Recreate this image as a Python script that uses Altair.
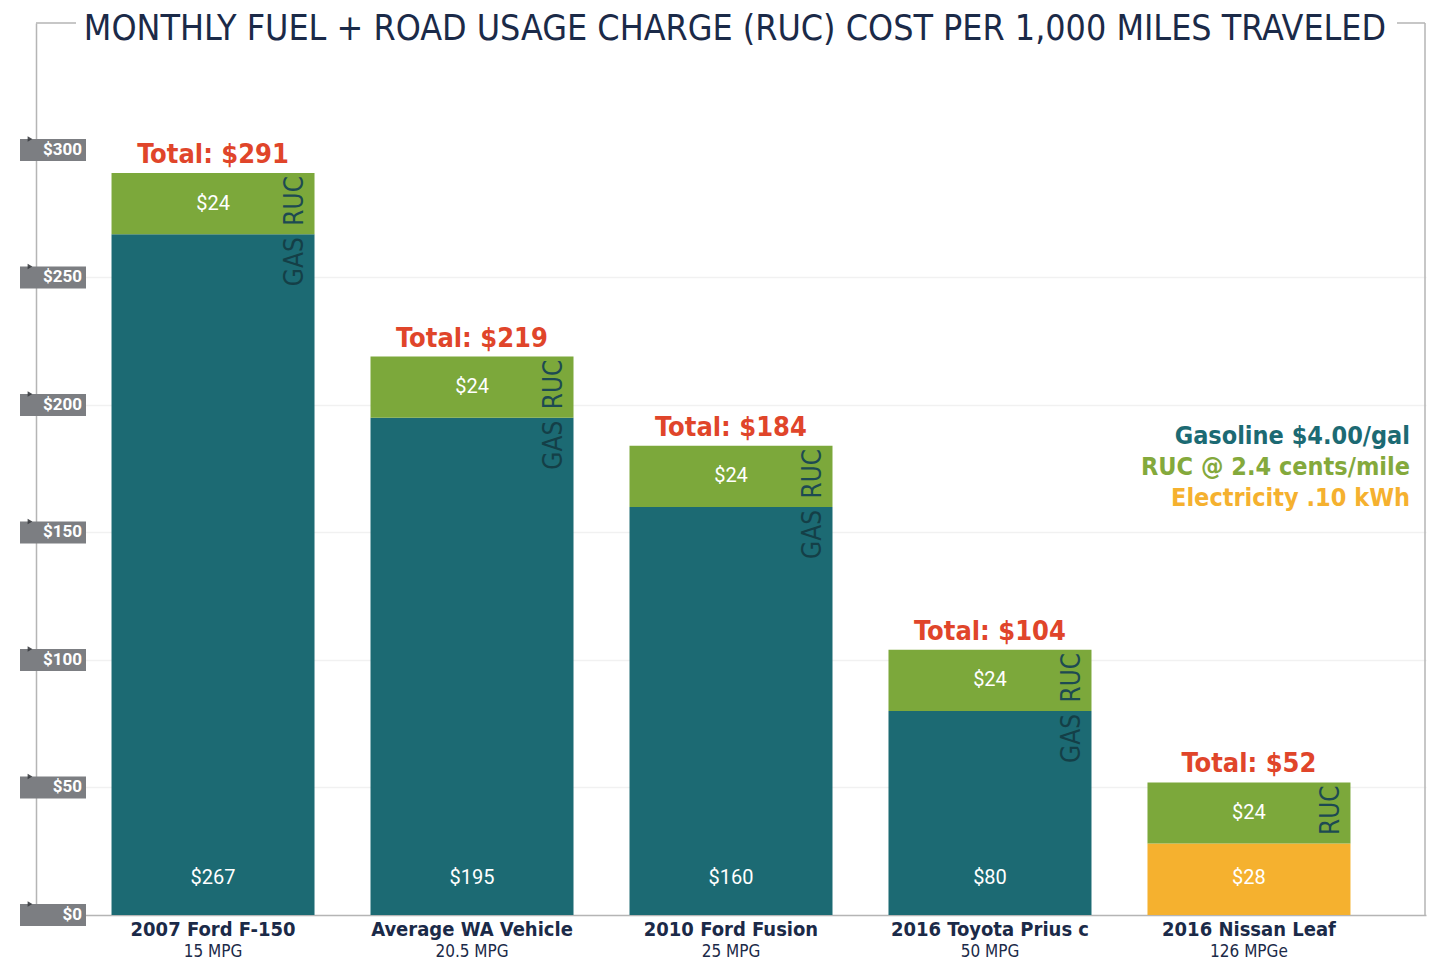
import altair as alt
import pandas as pd

# ---- data ----
vehicles = ["2007 Ford F-150", "Average WA Vehicle", "2010 Ford Fusion",
            "2016 Toyota Prius c", "2016 Nissan Leaf"]
mpg_labels = ["15 MPG", "20.5 MPG", "25 MPG", "50 MPG", "126 MPGe"]
fuel_cost = [267, 195, 160, 80, 28]
fuel_type = ["GAS", "GAS", "GAS", "GAS", "ELECTRIC"]
ruc_cost = [24, 24, 24, 24, 24]
totals = [291, 219, 184, 104, 52]
y_ticks = [0, 50, 100, 150, 200, 250, 300]
legend_lines = ["Gasoline $4.00/gal", "RUC @ 2.4 cents/mile", "Electricity .10 kWh"]
title_text = ["MONTHLY FUEL + ROAD USAGE CHARGE (RUC) COST PER 1,000 MILES TRAVELED"]

# ---- tables built from the arrays ----
seg_rows = []
for v, f, ft, r in zip(vehicles, fuel_cost, fuel_type, ruc_cost):
    seg_rows.append({"vehicle": v, "kind": ft, "y0": 0, "y1": f, "val": f})
    seg_rows.append({"vehicle": v, "kind": "RUC", "y0": f, "y1": f + r, "val": r})
segs = pd.DataFrame(seg_rows)

veh = pd.DataFrame({"vehicle": vehicles, "mpg": mpg_labels, "fuel": fuel_cost,
                    "ftype": fuel_type, "ruc": ruc_cost, "total": totals})
veh["fuel_label"] = "$" + veh["fuel"].astype(str)
veh["ruc_label"] = "$" + veh["ruc"].astype(str)
veh["total_label"] = "Total: $" + veh["total"].astype(str)
veh["ruc_mid"] = veh["fuel"] + veh["ruc"] / 2
veh["ruc_top"] = veh["fuel"] + veh["ruc"]
veh["ruc_tag"] = "RUC"
veh["gas_tag"] = "GAS"

ticks = pd.DataFrame({"v": y_ticks})
ticks["label"] = "$" + ticks["v"].astype(str)

COND = "DejaVu Sans Condensed, Liberation Sans Narrow, Roboto, sans-serif"
NAVY = "#1b2a48"
TEAL = "#1c6a73"
GREEN = "#7ca83b"
ORANGE = "#f5b12f"
RED = "#e0452a"

W, H = 1390, 892
ydom = [0, 349.8]

xs = alt.Scale(domain=vehicles, paddingInner=0.2162, paddingOuter=0.2916)
ys = alt.Scale(domain=ydom, nice=False, zero=True)

X = alt.X("vehicle:N", scale=xs, sort=vehicles,
          axis=alt.Axis(labels=False, ticks=False, title=None,
                        domainColor="#b5b5b5", domainWidth=1.5))

bars = alt.Chart(segs).mark_bar().encode(
    x=X,
    y=alt.Y("y0:Q", scale=ys,
            axis=alt.Axis(labels=False, ticks=False, title=None,
                          domainColor="#b5b5b5", domainWidth=1.5,
                          grid=True, gridColor="#f1f1f1", gridWidth=1.5,
                          values=[50, 100, 150, 200, 250])),
    y2="y1:Q",
    color=alt.Color("kind:N", legend=None,
                    scale=alt.Scale(domain=["GAS", "RUC", "ELECTRIC"],
                                    range=[TEAL, GREEN, ORANGE])),
)

base = alt.Chart(veh)
XV = alt.X("vehicle:N", scale=xs, sort=vehicles)

ruc_txt = base.mark_text(color="white", fontSize=20, font="Roboto",
                         baseline="middle").encode(
    x=XV, y=alt.Y("ruc_mid:Q", scale=ys), text="ruc_label:N")

fuel_txt = base.mark_text(color="white", fontSize=20, font="Roboto",
                          baseline="middle").encode(
    x=XV, y=alt.value(H - 37), text="fuel_label:N")

total_txt = base.mark_text(color=RED, fontSize=27, font=COND, fontWeight="bold",
                           baseline="middle", dy=-18).encode(
    x=XV, y=alt.Y("total:Q", scale=ys), text="total_label:N")

# rotated text: dx/dy act in the rotated frame (dy -> screen right, dx -> screen up)
ruc_tag = base.mark_text(color="#1d4a52", fontSize=26, font=COND, angle=270,
                         align="right", baseline="middle", dy=82, dx=-3).encode(
    x=XV, y=alt.Y("ruc_top:Q", scale=ys), text="ruc_tag:N")

gas_tag = base.transform_filter(alt.datum.ftype == "GAS").mark_text(
    color="#143f47", fontSize=26, font=COND, angle=270,
    align="right", baseline="middle", dy=82, dx=-3).encode(
    x=XV, y=alt.Y("fuel:Q", scale=ys), text="gas_tag:N")

xl1 = base.mark_text(color=NAVY, fontSize=20, font=COND, fontWeight="bold",
                     baseline="alphabetic").encode(
    x=XV, y=alt.value(H + 21), text="vehicle:N")

xl2 = base.mark_text(color=NAVY, fontSize=17, font=COND,
                     baseline="alphabetic").encode(
    x=XV, y=alt.value(H + 42), text="mpg:N")

tick_box = alt.Chart(ticks).transform_calculate(
    lo="datum.v - 4.3", hi="datum.v + 4.3").mark_rect(color="#7c7e82").encode(
    x=alt.value(-16), x2=alt.value(50),
    y=alt.Y("lo:Q", scale=ys), y2="hi:Q")

tick_flag = alt.Chart(ticks).transform_calculate(
    hi="datum.v + 4.3").mark_point(shape="triangle-right", filled=True,
                                   color="#3a3c40", size=30, opacity=0.9).encode(
    x=alt.value(-6), y=alt.Y("hi:Q", scale=ys))

tick_txt = alt.Chart(ticks).mark_text(color="white", fontSize=17, font="Roboto",
                                      fontWeight="bold", align="right",
                                      baseline="middle").encode(
    x=alt.value(46), y=alt.Y("v:Q", scale=ys), text="label:N")

leg_df = pd.DataFrame({"t": legend_lines})
leg_colors = [TEAL, "#84a93c", ORANGE]
leg_layers = []
for i, c in enumerate(leg_colors):
    leg_layers.append(
        alt.Chart(leg_df.iloc[[i]]).mark_text(
            color=c, fontSize=25, font=COND, fontWeight="bold",
            align="right", baseline="middle").encode(
            x=alt.value(1374), y=alt.value(413 + 31 * i), text="t:N"))

title = alt.Chart(pd.DataFrame({"t": title_text})).mark_text(
    color=NAVY, fontSize=35.5, font=COND, baseline="middle").encode(
    x=alt.value(699), y=alt.value(6), text="t:N")

frame_df = pd.DataFrame({"k": [0]})
right_rule = alt.Chart(frame_df).mark_rule(color="#b5b5b5", strokeWidth=1.5).encode(
    x=alt.value(W - 1), y=alt.value(0), y2=alt.value(H))
top_l = alt.Chart(frame_df).mark_rule(color="#b5b5b5", strokeWidth=1.5).encode(
    x=alt.value(0), x2=alt.value(40), y=alt.value(0))
top_r = alt.Chart(frame_df).mark_rule(color="#b5b5b5", strokeWidth=1.5).encode(
    x=alt.value(1361), x2=alt.value(W - 1), y=alt.value(0))

chart = alt.layer(
    bars, right_rule, top_l, top_r, ruc_txt, fuel_txt, total_txt, ruc_tag, gas_tag,
    xl1, xl2, tick_box, tick_flag, tick_txt, *leg_layers, title
).properties(
    width=W, height=H,
    padding={"left": 28, "top": 15, "right": 1, "bottom": 46},
    autosize=alt.AutoSizeParams(type="none"),
).configure_view(stroke=None)

chart.save("out.html", embed_options={"renderer": "svg", "actions": False})
